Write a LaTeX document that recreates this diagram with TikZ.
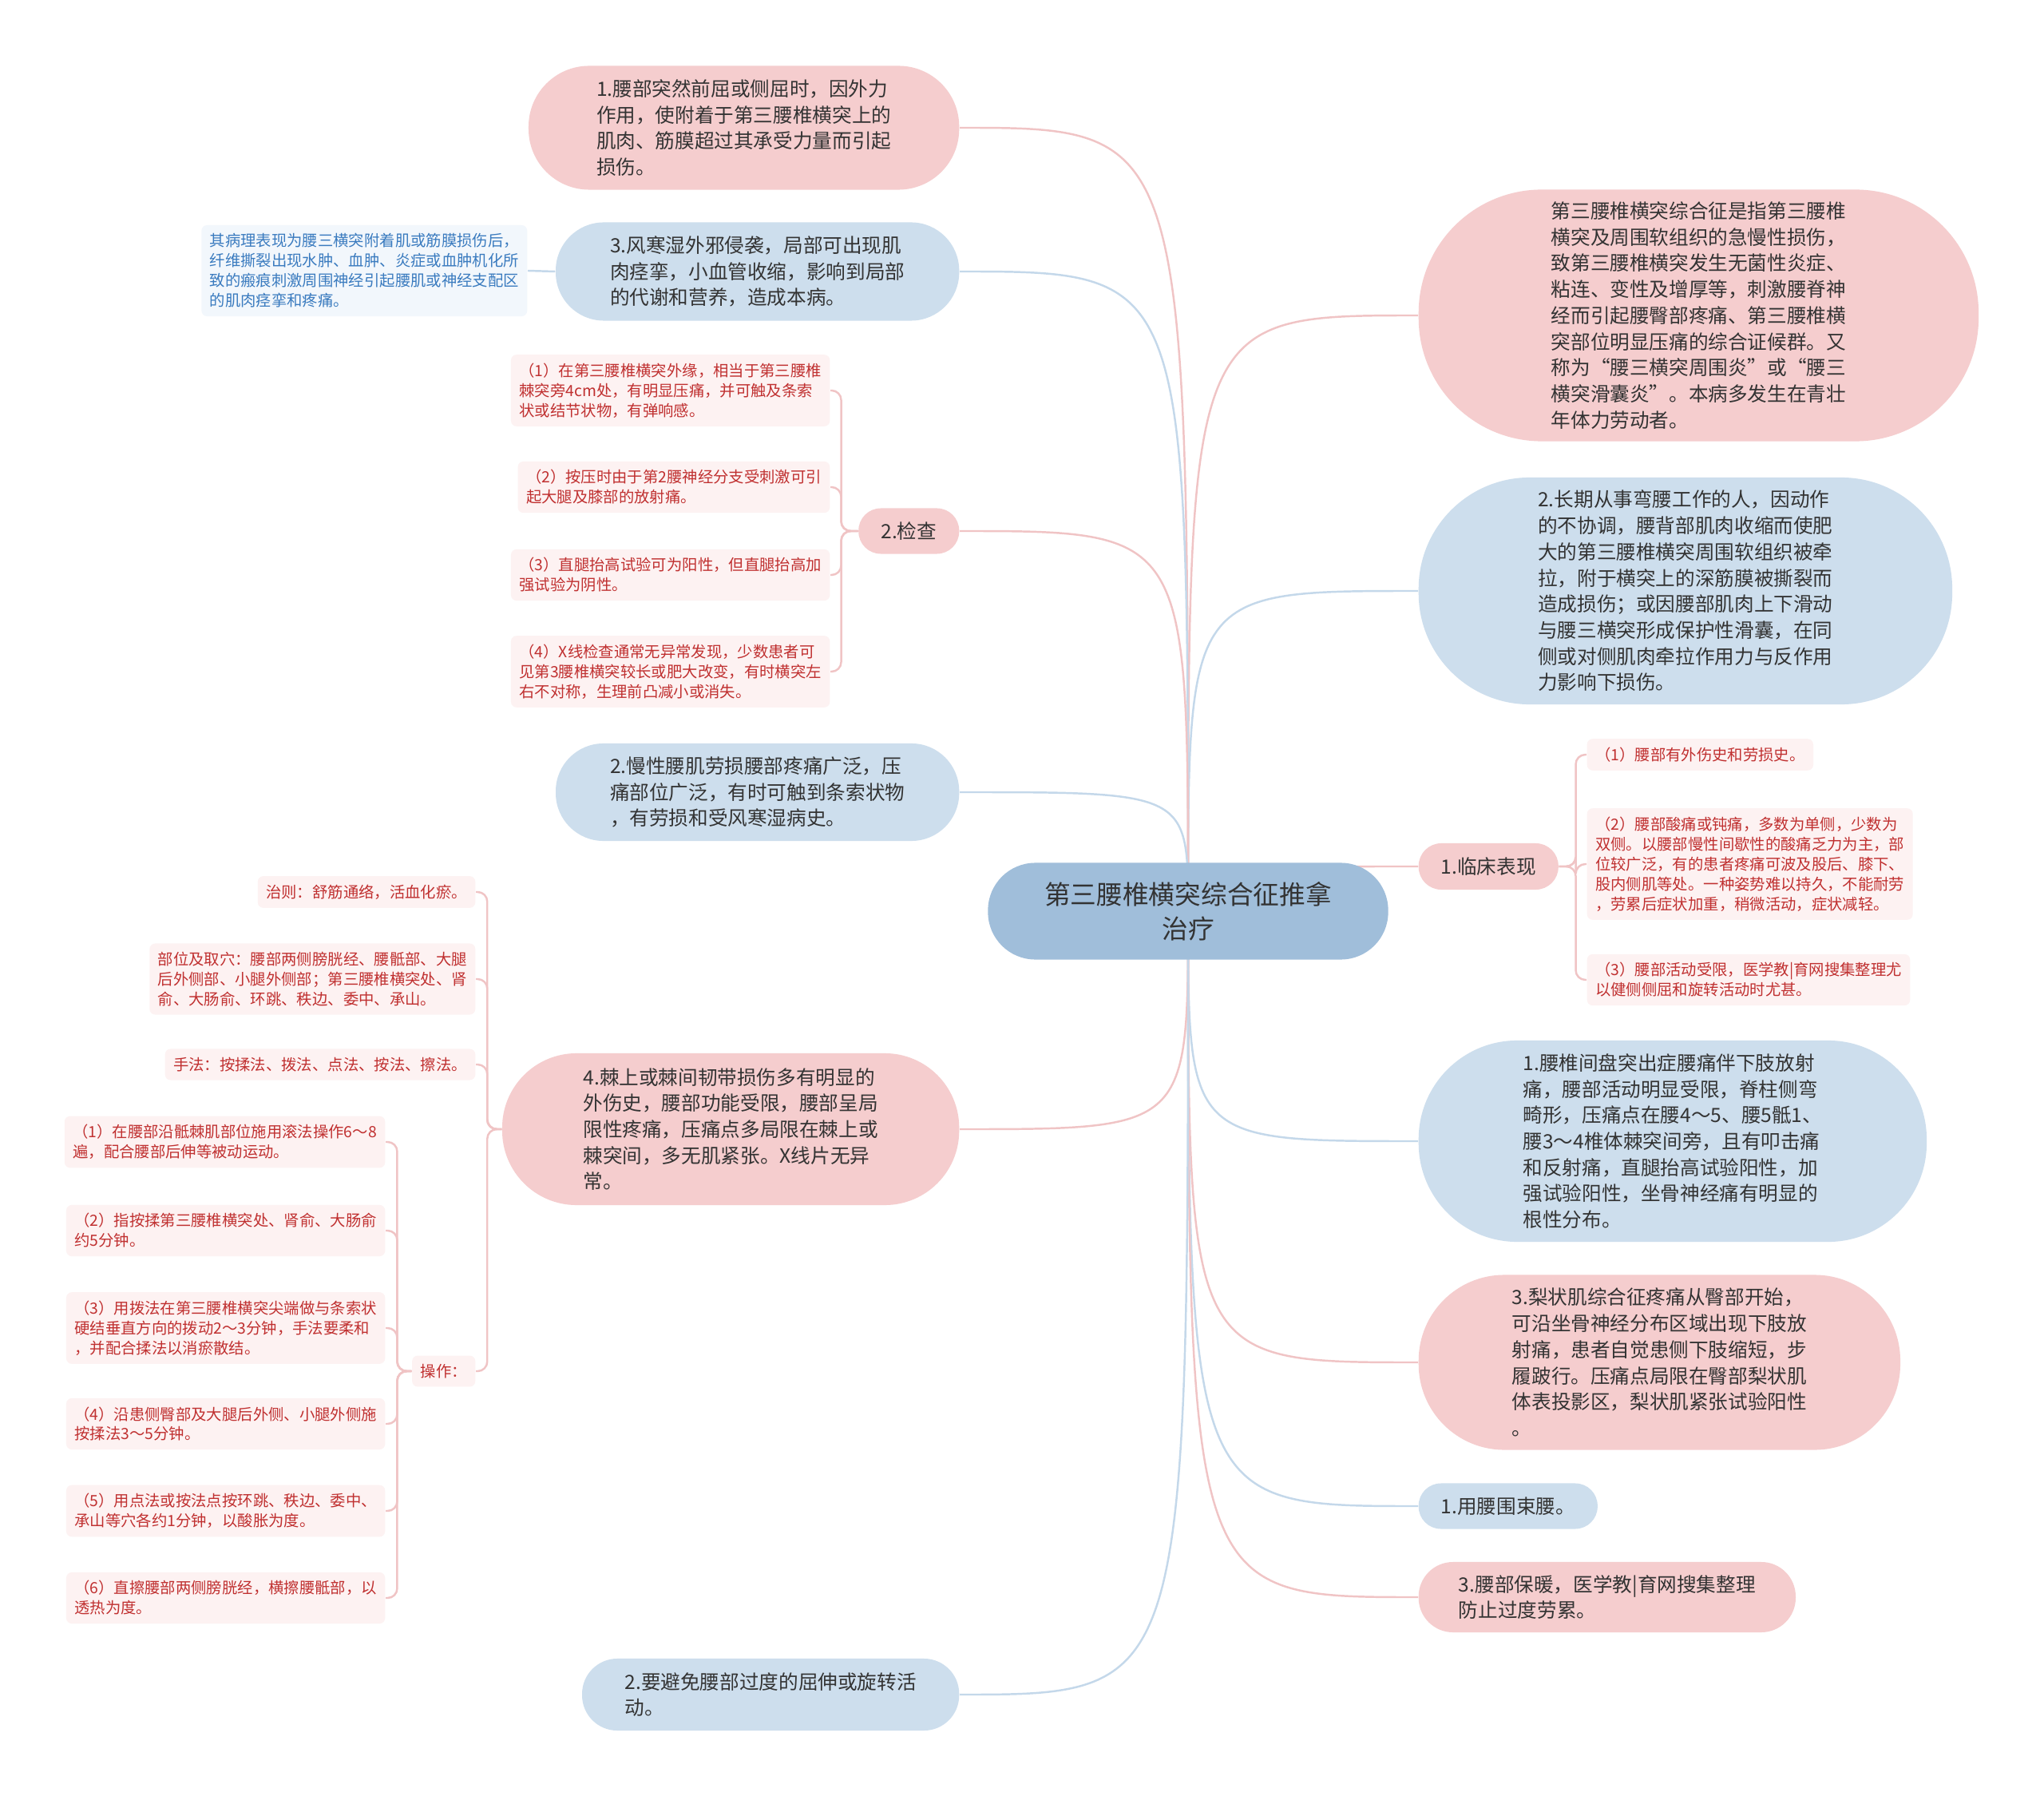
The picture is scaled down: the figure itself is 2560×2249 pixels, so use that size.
\documentclass[tikz,border=0pt]{standalone}
\usepackage{fontspec}
\setmainfont{Noto Sans CJK SC}
\usepackage{xcolor}
\usepackage{tikz}
\usetikzlibrary{backgrounds}
\definecolor{rootblue}{RGB}{160, 190, 218}
\definecolor{nodepink}{RGB}{245, 205, 206}
\definecolor{nodeblue}{RGB}{205, 222, 237}
\definecolor{linepink}{RGB}{240, 196, 197}
\definecolor{lineblue}{RGB}{196, 216, 234}
\definecolor{leafpink}{RGB}{253, 242, 242}
\definecolor{leafred}{RGB}{192, 48, 48}
\definecolor{leafblue}{RGB}{242, 247, 252}
\definecolor{noteblue}{RGB}{58, 123, 191}
\definecolor{textdark}{RGB}{51, 51, 51}

\begin{document}
\begin{tikzpicture}[
    x=0.01cm, y=-0.01cm,
    topic/.style n args={2}{rectangle, minimum width=#1cm, minimum height=#2cm,
                  rounded corners=#2*4.9mm, align=left, text=textdark,
                  font=\fontsize{7}{9.3}\selectfont, inner sep=0pt},
    pinktopic/.style n args={2}{topic={#1}{#2}, fill=nodepink},
    bluetopic/.style n args={2}{topic={#1}{#2}, fill=nodeblue},
    root/.style={topic={5.01}{1.21}, fill=rootblue, align=center,
                 font=\fontsize{9.3}{12.1}\selectfont},
    leaf/.style={rectangle, rounded corners=2pt, align=left, fill=leafpink, text=leafred,
                 font=\fontsize{5.5}{7.1}\selectfont, inner xsep=3pt, inner ysep=3pt},
    noteleaf/.style={leaf, fill=leafblue, text=noteblue},
    pinkline/.style={draw=linepink, line width=0.7pt},
    blueline/.style={draw=lineblue, line width=0.7pt}
]
    \useasboundingbox (0,0) rectangle (2560,2249);

    % Root
    \node[root] (root) at (1488,1141) {第三腰椎横突综合征推拿\\治疗};

    % Right branches
    \node[pinktopic={7.01}{3.15}, anchor=west] (defn) at (1776,395) {第三腰椎横突综合征是指第三腰椎\\横突及周围软组织的急慢性损伤，\\致第三腰椎横突发生无菌性炎症、\\粘连、变性及增厚等，刺激腰脊神\\经而引起腰臀部疼痛、第三腰椎横\\突部位明显压痛的综合证候群。又\\称为“腰三横突周围炎”或“腰三\\横突滑囊炎”。本病多发生在青壮\\年体力劳动者。};
    \node[bluetopic={6.68}{2.84}, anchor=west] (cause2) at (1776,740) {2.长期从事弯腰工作的人，因动作\\的不协调，腰背部肌肉收缩而使肥\\大的第三腰椎横突周围软组织被牵\\拉，附于横突上的深筋膜被撕裂而\\造成损伤；或因腰部肌肉上下滑动\\与腰三横突形成保护性滑囊，在同\\侧或对侧肌肉牵拉作用力与反作用\\力影响下损伤。};
    \node[pinktopic={1.75}{0.58}, anchor=west] (clinic) at (1776,1085) {1.临床表现};
    \node[leaf, anchor=west] (clinA) at (1987,945) {（1）腰部有外伤史和劳损史。};
    \node[leaf, anchor=west] (clinB) at (1987,1082) {（2）腰部酸痛或钝痛，多数为单侧，少数为\\双侧。以腰部慢性间歇性的酸痛乏力为主，部\\位较广泛，有的患者疼痛可波及股后、膝下、\\股内侧肌等处。一种姿势难以持久，不能耐劳\\，劳累后症状加重，稍微活动，症状减轻。};
    \node[leaf, anchor=west] (clinC) at (1987,1227) {（3）腰部活动受限，医学教|育网搜集整理尤\\以健侧侧屈和旋转活动时尤甚。};
    \node[bluetopic={6.36}{2.52}, anchor=west] (diffA) at (1776,1429) {1.腰椎间盘突出症腰痛伴下肢放射\\痛，腰部活动明显受限，脊柱侧弯\\畸形，压痛点在腰4～5、腰5骶1、\\腰3～4椎体棘突间旁，且有叩击痛\\和反射痛，直腿抬高试验阳性，加\\强试验阳性，坐骨神经痛有明显的\\根性分布。};
    \node[pinktopic={6.03}{2.19}, anchor=west] (diffB) at (1776,1706) {3.梨状肌综合征疼痛从臀部开始，\\可沿坐骨神经分布区域出现下肢放\\射痛，患者自觉患侧下肢缩短，步\\履跛行。压痛点局限在臀部梨状肌\\体表投影区，梨状肌紧张试验阳性\\。};
    \node[bluetopic={2.24}{0.57}, anchor=west] (careA) at (1776,1886) {1.用腰围束腰。};
    \node[pinktopic={4.72}{0.88}, anchor=west] (careB) at (1776,2000) {3.腰部保暖，医学教|育网搜集整理\\防止过度劳累。};

    % Left branches
    \node[pinktopic={5.39}{1.55}, anchor=east] (cause1) at (1202,160) {1.腰部突然前屈或侧屈时，因外力\\作用，使附着于第三腰椎横突上的\\肌肉、筋膜超过其承受力量而引起\\损伤。};
    \node[bluetopic={5.05}{1.23}, anchor=east] (cause3) at (1202,340) {3.风寒湿外邪侵袭，局部可出现肌\\肉痉挛，小血管收缩，影响到局部\\的代谢和营养，造成本病。};
    \node[noteleaf, anchor=east] (cause3note) at (661,339) {其病理表现为腰三横突附着肌或筋膜损伤后，\\纤维撕裂出现水肿、血肿、炎症或血肿机化所\\致的瘢痕刺激周围神经引起腰肌或神经支配区\\的肌肉痉挛和疼痛。};
    \node[pinktopic={1.26}{0.57}, anchor=east] (exam) at (1202,665) {2.检查};
    \node[leaf, anchor=east] (examA) at (1040,489) {（1）在第三腰椎横突外缘，相当于第三腰椎\\棘突旁4cm处，有明显压痛，并可触及条索\\状或结节状物，有弹响感。};
    \node[leaf, anchor=east] (examB) at (1040,610) {（2）按压时由于第2腰神经分支受刺激可引\\起大腿及膝部的放射痛。};
    \node[leaf, anchor=east] (examC) at (1040,720) {（3）直腿抬高试验可为阳性，但直腿抬高加\\强试验为阴性。};
    \node[leaf, anchor=east] (examD) at (1040,841) {（4）X线检查通常无异常发现，少数患者可\\见第3腰椎横突较长或肥大改变，有时横突左\\右不对称，生理前凸减小或消失。};
    \node[bluetopic={5.05}{1.22}, anchor=east] (diffC) at (1202,992) {2.慢性腰肌劳损腰部疼痛广泛，压\\痛部位广泛，有时可触到条索状物\\，有劳损和受风寒湿病史。};
    \node[pinktopic={5.72}{1.90}, anchor=east] (diffD) at (1202,1414) {4.棘上或棘间韧带损伤多有明显的\\外伤史，腰部功能受限，腰部呈局\\限性疼痛，压痛点多局限在棘上或\\棘突间，多无肌紧张。X线片无异\\常。};
    \node[leaf, anchor=east] (rule) at (596,1117) {治则：舒筋通络，活血化瘀。};
    \node[leaf, anchor=east] (point) at (596,1226) {部位及取穴：腰部两侧膀胱经、腰骶部、大腿\\后外侧部、小腿外侧部；第三腰椎横突处、肾\\俞、大肠俞、环跳、秩边、委中、承山。};
    \node[leaf, anchor=east] (method) at (596,1333) {手法：按揉法、拨法、点法、按法、擦法。};
    \node[leaf, anchor=east] (oper) at (596,1717) {操作：};
    \node[leaf, anchor=east] (operA) at (483,1430) {（1）在腰部沿骶棘肌部位施用滚法操作6～8\\遍，配合腰部后伸等被动运动。};
    \node[leaf, anchor=east] (operB) at (483,1541) {（2）指按揉第三腰椎横突处、肾俞、大肠俞\\约5分钟。};
    \node[leaf, anchor=east] (operC) at (483,1663) {（3）用拨法在第三腰椎横突尖端做与条索状\\硬结垂直方向的拨动2～3分钟，手法要柔和\\，并配合揉法以消瘀散结。};
    \node[leaf, anchor=east] (operD) at (483,1783) {（4）沿患侧臀部及大腿后外侧、小腿外侧施\\按揉法3～5分钟。};
    \node[leaf, anchor=east] (operE) at (483,1892) {（5）用点法或按法点按环跳、秩边、委中、\\承山等穴各约1分钟，以酸胀为度。};
    \node[leaf, anchor=east] (operF) at (483,2001) {（6）直擦腰部两侧膀胱经，横擦腰骶部，以\\透热为度。};
    \node[bluetopic={4.72}{0.90}, anchor=east] (careC) at (1202,2122) {2.要避免腰部过度的屈伸或旋转活\\动。};

    \begin{scope}[on background layer]
        \fill[white] (0,0) rectangle (2560,2249);

        % Root to topics
        \draw[pinkline] (root.center) .. controls (root.center |- defn.west) .. (defn.west);
        \draw[blueline] (root.center) .. controls (root.center |- cause2.west) .. (cause2.west);
        \draw[pinkline] (root.center) .. controls (root.center |- clinic.west) .. (clinic.west);
        \draw[blueline] (root.center) .. controls (root.center |- diffA.west) .. (diffA.west);
        \draw[pinkline] (root.center) .. controls (root.center |- diffB.west) .. (diffB.west);
        \draw[blueline] (root.center) .. controls (root.center |- careA.west) .. (careA.west);
        \draw[pinkline] (root.center) .. controls (root.center |- careB.west) .. (careB.west);
        \draw[pinkline] (root.center) .. controls (root.center |- cause1.east) .. (cause1.east);
        \draw[blueline] (root.center) .. controls (root.center |- cause3.east) .. (cause3.east);
        \draw[pinkline] (root.center) .. controls (root.center |- exam.east) .. (exam.east);
        \draw[blueline] (root.center) .. controls (root.center |- diffC.east) .. (diffC.east);
        \draw[pinkline] (root.center) .. controls (root.center |- diffD.east) .. (diffD.east);
        \draw[blueline] (root.center) .. controls (root.center |- careC.east) .. (careC.east);

        % Topics to leaves
        \draw[blueline] (cause3.west) -- (cause3note.east);
        \foreach \leafname in {clinA, clinB, clinC}
            \draw[pinkline, rounded corners=1.2mm] (clinic.east) -- ++(21,0) |- (\leafname.west);
        \foreach \leafname in {examA, examB, examC, examD}
            \draw[pinkline, rounded corners=1.2mm] (exam.west) -- ++(-21,0) |- (\leafname.east);
        \foreach \leafname in {rule, point, method, oper}
            \draw[pinkline, rounded corners=1.2mm] (diffD.west) -- ++(-18,0) |- (\leafname.east);
        \foreach \leafname in {operA, operB, operC, operD, operE, operF}
            \draw[pinkline, rounded corners=1.2mm] (oper.west) -- ++(-18,0) |- (\leafname.east);
    \end{scope}
\end{tikzpicture}
\end{document}
